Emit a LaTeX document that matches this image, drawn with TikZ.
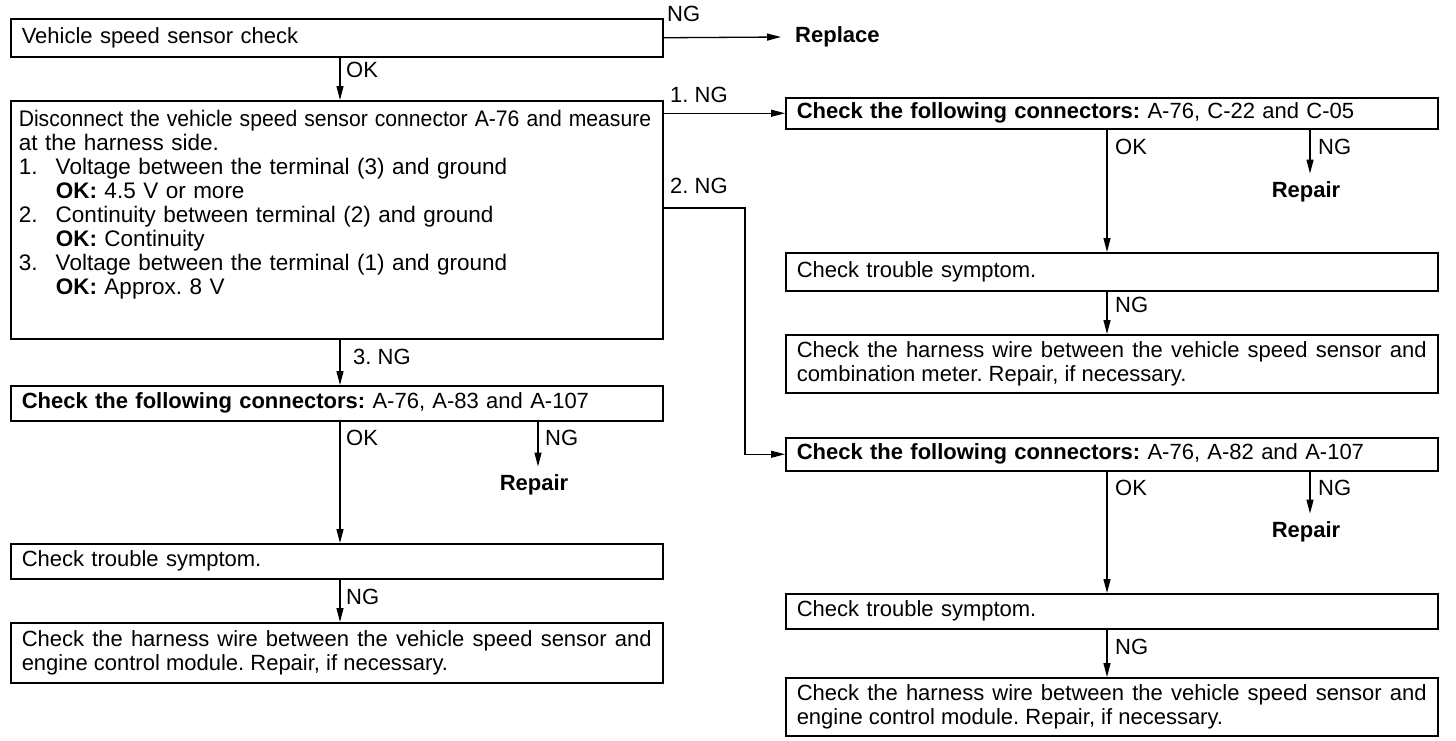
\documentclass[tikz,border=0pt]{standalone}
\usepackage{fontspec}
\usepackage{graphicx}
\setmainfont{Liberation Sans}
\usetikzlibrary{arrows.meta}
\frenchspacing
\begin{document}
\begin{tikzpicture}[x=1pt,y=-1pt,
  every node/.style={font=\fontsize{22}{24}\selectfont, inner sep=0pt},
  box/.style={draw, line width=1.5pt, rectangle, anchor=north west, text width=630pt, inner xsep=11pt, inner ysep=4pt, align=left},
  jbox/.style={box, align=justify},
  arr/.style={line width=1.3pt, -{Triangle[length=14pt,width=7pt]}},
  lbl/.style={anchor=west},
  rep/.style={font=\fontsize{22}{24}\selectfont\bfseries, inner ysep=8pt}
]
\useasboundingbox (0,0) rectangle (1456,740);
\coordinate (xL) at (340,0);
\coordinate (xLN) at (538,0);
\coordinate (xR) at (1107,0);
\coordinate (xRN) at (1310,0);

% top
\node[box, minimum height=38pt] (b1) at (10,18) {Vehicle speed sensor check};
\node[anchor=west, inner xsep=14pt, font=\fontsize{22}{24}\selectfont\bfseries] (replace) at (781,37) {Replace};
\draw[arr] (b1.east) -- (replace.west);
\node[lbl] (ng0) at (667,14) {NG};

\node[box, minimum height=238pt, inner xsep=8pt, text width=636pt, font=\fontsize{22.5}{24}\selectfont] (b2) at (10,100) {\scalebox{0.94}[1]{Disconnect the vehicle speed sensor connector A-76 and measure}\\
at the harness side.\\
\makebox[37pt][l]{1.}Voltage between the terminal (3) and ground\\
\hspace*{37pt}\textbf{OK:} 4.5 V or more\\
\makebox[37pt][l]{2.}Continuity between terminal (2) and ground\\
\hspace*{37pt}\textbf{OK:} Continuity\\
\makebox[37pt][l]{3.}Voltage between the terminal (1) and ground\\
\hspace*{37pt}\textbf{OK:} Approx. 8 V\\[10pt]\mbox{}};
\draw[arr] (b1.south -| xL) -- (b2.north -| xL);
\node[lbl] (ok1) at (346,70) {OK};

% right upper branch
\node[box, minimum height=31pt] (b3) at (785,97) {\textbf{Check the following connectors:} A-76, C-22 and C-05};
\draw[arr] (b3.west -| b2.east) -- (b3.west);
\node[lbl] (ng1) at (670,95) {1. NG};

\node[box, minimum height=38pt] (b4) at (785,252) {Check trouble symptom.};
\draw[arr] (b3.south -| xR) -- (b4.north -| xR);
\node[lbl] (ok3) at (1115,147) {OK};
\node[rep] (rep3) at (1306,192) {Repair};
\draw[arr] (b3.south -| xRN) -- (rep3.north -| xRN);
\node[lbl] (ng3) at (1318,147) {NG};

\node[jbox, minimum height=58pt] (b5) at (785,334) {Check the harness wire between the vehicle speed sensor and\linebreak combination meter. Repair, if necessary.};
\draw[arr] (b4.south -| xR) -- (b5.north -| xR);
\node[lbl] (ng4) at (1115,305) {NG};

% right lower branch
\node[box, minimum height=33pt] (b9) at (785,437) {\textbf{Check the following connectors:} A-76, A-82 and A-107};
\coordinate (c2) at (745,208);
\draw[arr] (c2 -| b2.east) -- (c2) |- (b9.west);
\node[lbl] (ng2) at (670,186) {2. NG};

\node[box, minimum height=35pt] (b10) at (785,593) {Check trouble symptom.};
\draw[arr] (b9.south -| xR) -- (b10.north -| xR);
\node[lbl] (ok9) at (1115,488) {OK};
\node[rep] (rep9) at (1306,532) {Repair};
\draw[arr] (b9.south -| xRN) -- (rep9.north -| xRN);
\node[lbl] (ng9) at (1318,488) {NG};

\node[jbox, minimum height=58pt] (b11) at (785,677) {Check the harness wire between the vehicle speed sensor and\linebreak engine control module. Repair, if necessary.};
\draw[arr] (b10.south -| xR) -- (b11.north -| xR);
\node[lbl] (ng10) at (1115,647) {NG};

% left branch
\node[box, minimum height=35pt] (b6) at (10,385) {\textbf{Check the following connectors:} A-76, A-83 and A-107};
\draw[arr] (b2.south -| xL) -- (b6.north -| xL);
\node[lbl] (ng5) at (353,357) {3. NG};

\node[box, minimum height=35pt] (b7) at (10,543) {Check trouble symptom.};
\draw[arr] (b6.south -| xL) -- (b7.north -| xL);
\node[lbl] (ok6) at (346,438) {OK};
\node[rep] (rep6) at (534,485) {Repair};
\draw[arr] (b6.south -| xLN) -- (rep6.north -| xLN);
\node[lbl] (ng6) at (545,438) {NG};

\node[jbox, minimum height=60pt] (b8) at (10,622) {Check the harness wire between the vehicle speed sensor and\linebreak engine control module. Repair, if necessary.};
\draw[arr] (b7.south -| xL) -- (b8.north -| xL);
\node[lbl] (ng7) at (346,597) {NG};
\end{tikzpicture}
\end{document}
